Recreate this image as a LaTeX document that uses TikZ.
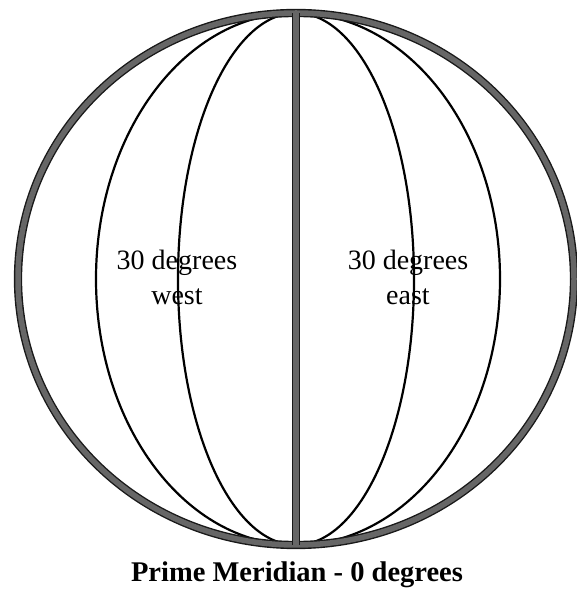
\documentclass[tikz,border=0pt]{standalone}
\usepackage{fontspec}
\setmainfont{Liberation Serif}
\usetikzlibrary{positioning}

\begin{document}
\begin{tikzpicture}[
  x=1pt, y=1pt,
  rim/.style={draw=black!90, line width=1.4pt, double=black!60, double distance=5.5pt},
  meridian/.style={draw=black, line width=2.2pt},
  label/.style={align=center, inner sep=0pt, font=\fontsize{28}{35}\selectfont},
  caption/.style={anchor=base, inner sep=0pt, font=\bfseries\fontsize{28.5}{34}\selectfont}
]
\useasboundingbox (0,0) rectangle (576,592);
\coordinate (c) at (296,313);
\coordinate (north) at (296,579);
\coordinate (south) at (296,47);

% lines of longitude
\draw[meridian] (north) arc[start angle=90, end angle=270, x radius=118, y radius=266];
\draw[meridian] (north) arc[start angle=90, end angle=270, x radius=200, y radius=266];
\draw[meridian] (north) arc[start angle=90, end angle=-90, x radius=118, y radius=266];
\draw[meridian] (north) arc[start angle=90, end angle=-90, x radius=204, y radius=266];

% globe outline and prime meridian
\draw[rim] (c) ellipse[x radius=278, y radius=266];
\draw[rim] (north) -- (south);

\node[label] (west) at (177,315) {30 degrees\\west};
\node[label] (east) at (408,315) {30 degrees\\east};
\node[caption] (title) at (297,10) {Prime Meridian - 0 degrees};
\end{tikzpicture}
\end{document}
